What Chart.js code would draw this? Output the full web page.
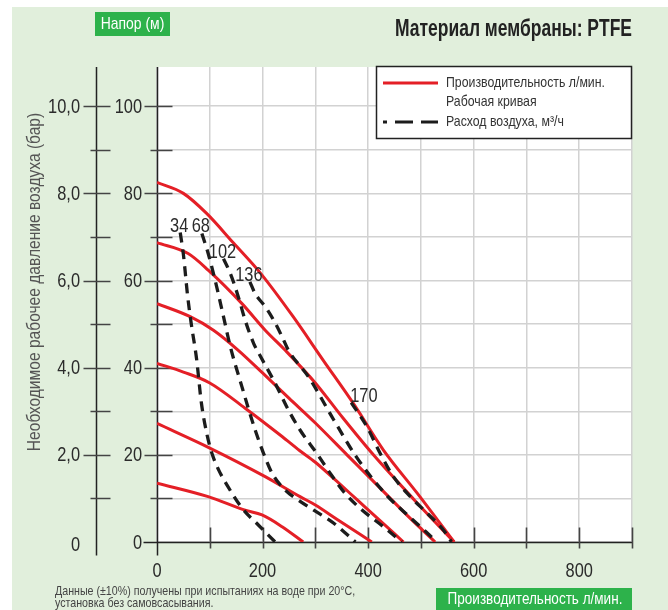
<!DOCTYPE html>
<html>
<head>
<meta charset="utf-8">
<script src="https://cdn.jsdelivr.net/npm/chart.js@4/dist/chart.umd.min.js"></script>
<style>
  html, body { margin: 0; padding: 0; background: #fff; }
  canvas { display: block; }
</style>
</head>
<body>
<canvas id="pumpChart" width="668" height="610"></canvas>
<script>
// рабочие кривые (производительность л/мин -> напор м)
const work1X = [0, 50, 94, 145, 196, 258, 315, 372, 429, 493, 563];
const work1Y = [82.5, 80, 75.4, 68.6, 61.7, 51.7, 41.7, 31.8, 21.1, 11.2, 0];
const work2X = [0, 59, 97, 161, 205, 243, 300, 352, 410, 488, 563];
const work2Y = [68.7, 66.2, 62.4, 54.7, 48.6, 44, 36.5, 28.5, 20, 9.6, 0];
const work3X = [0, 63, 107, 154, 200, 250, 300, 360, 420, 475, 527];
const work3Y = [54.7, 51.7, 48.6, 44, 38.8, 33, 27.3, 20, 12.7, 6, 0];
const work4X = [0, 50, 100, 167, 237, 270, 300, 340, 380, 420, 467];
const work4Y = [41, 39, 36.5, 30.7, 24.2, 21, 18.3, 14, 9.6, 5.2, 0];
const work5X = [0, 101, 205, 271, 300, 340, 407];
const work5Y = [27.2, 21.5, 15, 10.4, 8.5, 5.3, 0];
const work6X = [0, 97, 167, 199, 237, 277];
const work6Y = [13.5, 10.4, 7.3, 6.2, 3.5, 0];

// расход воздуха, м3/ч
const air34X = [44, 50, 58, 65, 75, 84, 95, 105, 117, 133, 161, 192, 224];
const air34Y = [71, 66, 56.5, 50, 42, 32, 24.5, 20, 16.5, 13, 7.8, 3.9, 0];
const air68X = [85, 97, 113, 126, 139, 161, 174, 186, 202, 218, 243, 268, 297, 335, 376];
const air68Y = [70.8, 66.2, 58.6, 51.7, 44.8, 35.6, 30.3, 25.7, 20.3, 15.8, 11.9, 9.6, 7.3, 4.3, 0];
const air102X = [126, 139, 154, 167, 183, 192, 224, 249, 271, 303, 328, 354, 385, 429, 464];
const air102Y = [65, 61.6, 56.3, 50.9, 45.6, 43.5, 36.4, 30.3, 25.7, 20.3, 15.8, 11.5, 7.7, 3.5, 0];
const air136X = [176, 186, 205, 221, 237, 249, 287, 335, 379, 433, 480, 510, 530];
const air136Y = [59.7, 57, 54, 50.9, 47.1, 44, 37.9, 28, 19.3, 11, 5.6, 2.3, 0];
const air170X = [368, 398, 423, 448, 480, 512, 543, 558];
const air170Y = [32, 26.4, 20.3, 15, 10.4, 6.6, 2.7, 0];
const airLabels = ['34', '68', '102', '136', '170'];

// оси
const xTickStep = 100;
const headTickStep = 10;
const barTickStep = 1;

const SANS = "'Liberation Sans', Arial, sans-serif";
const RED = '#e41f26';
const DASH = '#1c1c1c';
const GREEN = '#2db24b';

function pts(xs, ys) {
    return xs.map((x, i) => ({ x: x, y: ys[i] }));
}

// узкий шрифт: Liberation Sans, сжатый по горизонтали
function txt(ctx, s, x, y, o) {
    ctx.save();
    ctx.font = (o.bold ? 'bold ' : '') + o.size + 'px ' + SANS;
    ctx.fillStyle = o.color || '#222';
    ctx.textAlign = o.align || 'left';
    ctx.textBaseline = o.base || 'middle';
    ctx.translate(x, y);
    if (o.rot) ctx.rotate(o.rot);
    ctx.scale(o.sx || 0.82, 1);
    ctx.fillText(s, 0, 0);
    ctx.restore();
}

const workSets = [[work1X, work1Y], [work2X, work2Y], [work3X, work3Y],
    [work4X, work4Y], [work5X, work5Y], [work6X, work6Y]];
const airSets = [[air34X, air34Y], [air68X, air68Y], [air102X, air102Y],
    [air136X, air136Y], [air170X, air170Y]];

const datasets = [];
airSets.forEach((s, i) => {
    datasets.push({
        label: 'air ' + airLabels[i],
        data: pts(s[0], s[1]),
        borderColor: DASH,
        borderWidth: 3.3,
        borderDash: [10, 7],
        pointRadius: 0,
        cubicInterpolationMode: 'monotone',
        fill: false,
        order: 1
    });
});
workSets.forEach((s, i) => {
    datasets.push({
        label: 'work ' + (i + 1),
        data: pts(s[0], s[1]),
        borderColor: RED,
        borderWidth: 3,
        pointRadius: 0,
        cubicInterpolationMode: 'monotone',
        fill: false,
        order: 2
    });
});

const isStep = v => Math.abs(v - Math.round(v)) < 1e-6;

// фон, оси с засечками, подписи, легенда
const sheet = {
    id: 'sheet',
    beforeDraw(chart) {
        const ctx = chart.ctx, a = chart.chartArea;
        ctx.save();
        ctx.fillStyle = '#fff';
        ctx.fillRect(0, 0, chart.width, chart.height);
        ctx.fillStyle = '#e1efdc';
        ctx.fillRect(12, 7, chart.width - 12, chart.height - 7);
        ctx.fillStyle = '#fff';
        ctx.fillRect(a.left, a.top, a.right - a.left, a.bottom - a.top);
        ctx.restore();
    },
    beforeDatasetsDraw(chart) {
        const ctx = chart.ctx, a = chart.chartArea;
        const xs = chart.scales.x, ys = chart.scales.y, ys2 = chart.scales.y2;
        const ox = Math.round(ys2.right) + 0.5, ix = Math.round(a.left) + 0.5, by = Math.round(a.bottom) + 0.5;
        ctx.save();
        ctx.strokeStyle = '#222';
        ctx.lineWidth = 1.5;
        ctx.beginPath();
        ctx.moveTo(ox, a.top); ctx.lineTo(ox, by + 13);
        ctx.moveTo(ix, a.top); ctx.lineTo(ix, by + 13);
        ctx.moveTo(ix - 14, by); ctx.lineTo(a.right, by);
        ctx.stroke();
        ctx.strokeStyle = '#444';
        ctx.lineWidth = 1.6;
        ctx.beginPath();
        ys2.ticks.forEach(t => {
            if (t.value === 0) return;
            const py = Math.round(ys2.getPixelForValue(t.value)) + 0.5;
            ctx.moveTo(ox - (t.value % 2 === 0 ? 13 : 6), py); ctx.lineTo(ox + 14, py);
        });
        ys.ticks.forEach(t => {
            if (t.value === 0) return;
            const py = Math.round(ys.getPixelForValue(t.value)) + 0.5;
            ctx.moveTo(ix - (t.value % 20 === 0 ? 13 : 7), py); ctx.lineTo(ix + 15, py);
        });
        xs.ticks.forEach(t => {
            if (t.value === 0) return;
            const px = Math.round(xs.getPixelForValue(t.value)) + 0.5;
            ctx.moveTo(px, by - 15); ctx.lineTo(px, by + 6);
        });
        ctx.stroke();
        ctx.restore();
    },
    afterDraw(chart) {
        const ctx = chart.ctx;
        const xs = chart.scales.x, ys = chart.scales.y, ys2 = chart.scales.y2;
        const tick = { size: 20, color: '#2b2b2b', align: 'right' };

        // подписи делений
        xs.ticks.forEach(t => {
            if (t.value % 200 === 0) txt(ctx, String(t.value), xs.getPixelForValue(t.value), 571, { size: 20, color: '#2b2b2b', align: 'center' });
        });
        ys.ticks.forEach(t => {
            if (t.value % 20 === 0) txt(ctx, String(t.value), 142, ys.getPixelForValue(t.value) + 1, tick);
        });
        ys2.ticks.forEach(t => {
            if (t.value % 2 === 0) {
                const s = t.value === 0 ? '0' : t.value.toFixed(1).replace('.', ',');
                txt(ctx, s, 80, ys2.getPixelForValue(t.value) + (t.value === 0 ? 3 : 1), tick);
            }
        });

        // заголовок
        txt(ctx, 'Материал мембраны: PTFE', 632, 30, { size: 23, bold: true, color: '#222', align: 'right', sx: 0.76 });

        // зелёные плашки
        ctx.save();
        ctx.fillStyle = GREEN;
        ctx.fillRect(95, 12, 75, 24);
        ctx.fillRect(436, 588, 196, 22);
        ctx.restore();
        txt(ctx, 'Напор (м)', 132.5, 24.5, { size: 17, color: '#fff', align: 'center' });
        txt(ctx, 'Производительность л/мин.', 535, 599.5, { size: 16.5, color: '#fff', align: 'center' });

        // подпись оси давления
        txt(ctx, 'Необходимое рабочее давление воздуха (бар)', 35, 282,
            { size: 19, color: '#555', align: 'center', rot: -Math.PI / 2 });

        // примечание
        txt(ctx, 'Данные (±10%) получены при испытаниях на воде при 20°C,', 55, 591, { size: 13, color: '#444' });
        txt(ctx, 'установка без самовсасывания.', 55, 603, { size: 13, color: '#444' });

        // легенда
        ctx.save();
        ctx.fillStyle = '#fff';
        ctx.fillRect(376.5, 66.5, 255, 72);
        ctx.strokeStyle = '#222';
        ctx.lineWidth = 1.5;
        ctx.strokeRect(376.5, 66.5, 255, 72);
        ctx.strokeStyle = RED;
        ctx.lineWidth = 3;
        ctx.beginPath();
        ctx.moveTo(383, 83); ctx.lineTo(438, 83);
        ctx.stroke();
        ctx.strokeStyle = DASH;
        ctx.setLineDash([18, 8]);
        ctx.lineDashOffset = 14;
        ctx.beginPath();
        ctx.moveTo(383, 122); ctx.lineTo(438, 122);
        ctx.stroke();
        ctx.restore();
        const leg = { size: 15, color: '#333' };
        txt(ctx, 'Производительность л/мин.', 446, 83, leg);
        txt(ctx, 'Рабочая кривая', 446, 102, leg);
        txt(ctx, 'Расход воздуха, м³/ч', 446, 122, leg);

        // подписи кривых расхода
        airSets.forEach((s, i) => {
            const px = xs.getPixelForValue(s[0][0]);
            const py = ys.getPixelForValue(s[1][0]);
            const last = i === airSets.length - 1;
            txt(ctx, airLabels[i], px - 1, py - 1,
                { size: 20, color: '#2b2b2b', align: last ? 'left' : 'center', base: 'alphabetic' });
        });
    }
};

const grid = { color: '#d2d2d2', lineWidth: 1.5, drawTicks: false };

const config = {
    type: 'line',
    data: { datasets: datasets },
    options: {
        responsive: false,
        animation: false,
        devicePixelRatio: 1,
        layout: { padding: { top: 67, right: 36, left: 0, bottom: 0 } },
        plugins: { legend: { display: false }, tooltip: { enabled: false } },
        scales: {
            x: {
                type: 'linear',
                min: 0,
                max: 900,
                afterFit: s => { s.height = 68; },
                ticks: { stepSize: xTickStep, display: false },
                grid: grid,
                border: { display: false }
            },
            y: {
                type: 'linear',
                position: 'left',
                min: 0,
                max: 109,
                afterFit: s => { s.width = 61; },
                afterBuildTicks: s => { s.ticks = s.ticks.filter(t => isStep(t.value / headTickStep)); },
                ticks: { stepSize: headTickStep, display: false },
                grid: grid,
                border: { display: false }
            },
            y2: {
                type: 'linear',
                position: 'left',
                min: 0,
                max: 10.9,
                afterFit: s => { s.width = 96; },
                afterBuildTicks: s => { s.ticks = s.ticks.filter(t => isStep(t.value / barTickStep)); },
                ticks: { stepSize: barTickStep, display: false },
                grid: { display: false, drawTicks: false },
                border: { display: false }
            }
        }
    },
    plugins: [sheet]
};

const pumpChart = new Chart(document.getElementById('pumpChart'), config);
</script>
</body>
</html>
